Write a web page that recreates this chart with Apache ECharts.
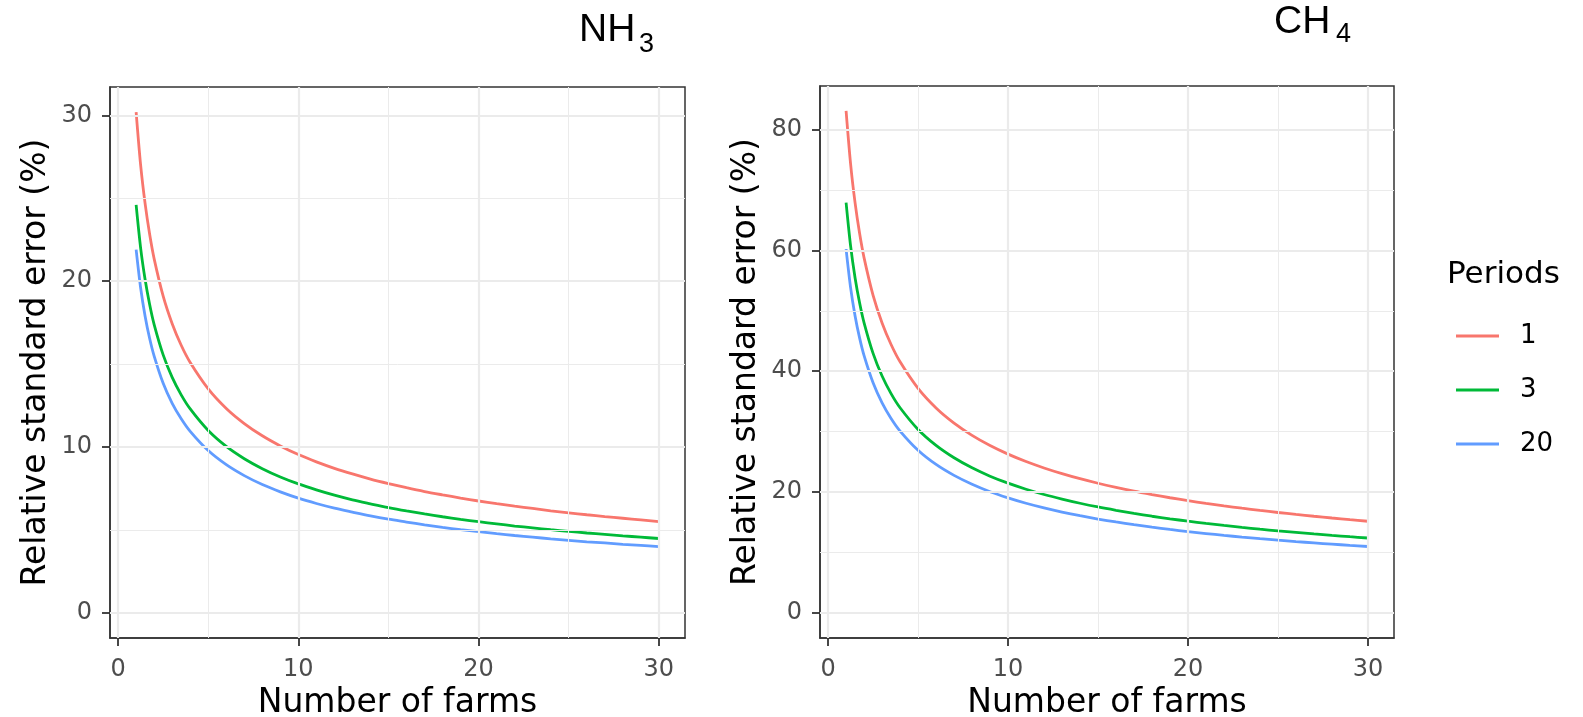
<!DOCTYPE html>
<html>
<head>
<meta charset="utf-8">
<script src="https://cdn.jsdelivr.net/npm/echarts@6/dist/echarts.min.js"></script>
<style>
html, body { margin: 0; padding: 0; background: #fff; }
#main { width: 1583px; height: 717px; }
</style>
</head>
<body>
<div id="main"></div>
<script>
// number of farms (x)
var farms = [1, 1.25, 1.5, 1.75, 2, 2.5, 3, 3.5, 4, 5, 6, 7, 8, 9, 10, 11, 12, 13, 14, 15,
  16, 17, 18, 19, 20, 21, 22, 23, 24, 25, 26, 27, 28, 29, 30];

// NH3, relative standard error (%) per number of periods
var nh3P1 = [30.2, 27.0, 24.66, 22.83, 21.35, 19.1, 17.44, 16.14, 15.1, 13.51, 12.33, 11.42, 10.68, 10.07, 9.55,
  9.11, 8.72, 8.38, 8.07, 7.8, 7.55, 7.32, 7.12, 6.93, 6.75, 6.59, 6.44, 6.3, 6.16, 6.04, 5.92, 5.81, 5.71, 5.61, 5.51];
var nh3P3 = [24.6, 22.0, 20.09, 18.6, 17.39, 15.56, 14.2, 13.15, 12.3, 11.0, 10.04, 9.3, 8.7, 8.2, 7.78,
  7.42, 7.1, 6.82, 6.58, 6.35, 6.15, 5.97, 5.8, 5.64, 5.5, 5.37, 5.24, 5.13, 5.02, 4.92, 4.82, 4.74, 4.65, 4.57, 4.49];
var nh3P20 = [21.9, 19.59, 17.88, 16.55, 15.49, 13.85, 12.64, 11.71, 10.95, 9.79, 8.94, 8.28, 7.74, 7.3, 6.92,
  6.6, 6.32, 6.08, 5.85, 5.65, 5.48, 5.31, 5.16, 5.02, 4.9, 4.78, 4.67, 4.57, 4.47, 4.38, 4.29, 4.22, 4.14, 4.07, 4.0];

// CH4
var ch4P1 = [83.1, 74.33, 67.85, 62.82, 58.76, 52.56, 47.98, 44.42, 41.55, 37.16, 33.92, 31.41, 29.38, 27.7, 26.28,
  25.05, 23.99, 23.05, 22.21, 21.46, 20.78, 20.15, 19.59, 19.06, 18.58, 18.13, 17.72, 17.33, 16.96, 16.62, 16.3, 16.0, 15.71, 15.43, 15.17];
var ch4P3 = [67.9, 60.73, 55.44, 51.33, 48.01, 42.95, 39.2, 36.29, 33.95, 30.36, 27.72, 25.67, 24.01, 22.63, 21.47,
  20.47, 19.6, 18.84, 18.15, 17.53, 16.98, 16.47, 16.0, 15.58, 15.18, 14.82, 14.48, 14.16, 13.86, 13.58, 13.32, 13.07, 12.83, 12.61, 12.4];
var ch4P20 = [60.2, 53.84, 49.15, 45.51, 42.57, 38.08, 34.76, 32.18, 30.1, 26.92, 24.57, 22.76, 21.29, 20.06, 19.04,
  18.15, 17.38, 16.7, 16.09, 15.54, 15.05, 14.6, 14.19, 13.81, 13.46, 13.14, 12.83, 12.55, 12.29, 12.04, 11.81, 11.59, 11.38, 11.18, 10.99];

var periods = ['1', '3', '20'];
var farmTicks = [0, 10, 20, 30];
var farmMinor = [5, 15, 25];
var nh3Ticks = [0, 10, 20, 30];
var nh3Minor = [5, 15, 25];
var ch4Ticks = [0, 20, 40, 60, 80];
var ch4Minor = [10, 30, 50, 70];

var colors = ['#F8766D', '#00BA38', '#619CFF'];
var FONT = 'DejaVu Sans';

function pairs(ys) {
  return farms.map(function (x, i) { return [x, ys[i]]; });
}

// background grid lines (ggplot theme_bw style) drawn as markLines
function gridSeries(idx, yMajor, yMinor) {
  var d = [];
  farmMinor.forEach(function (v) { d.push({ xAxis: v, lineStyle: { width: 1 } }); });
  yMinor.forEach(function (v) { d.push({ yAxis: v, lineStyle: { width: 1 } }); });
  farmTicks.forEach(function (v) { d.push({ xAxis: v, lineStyle: { width: 2.2 } }); });
  yMajor.forEach(function (v) { d.push({ yAxis: v, lineStyle: { width: 2.2 } }); });
  return {
    type: 'line', name: 'grid' + idx, xAxisIndex: idx, yAxisIndex: idx,
    data: [], silent: true, z: 1,
    markLine: {
      silent: true, symbol: ['none', 'none'], animation: false,
      label: { show: false },
      lineStyle: { color: '#ebebeb', type: 'solid' },
      emphasis: { disabled: true },
      data: d
    }
  };
}

function curve(idx, name, ys, c) {
  return {
    type: 'line', name: name, xAxisIndex: idx, yAxisIndex: idx,
    data: pairs(ys), smooth: 0.3, showSymbol: false, symbol: 'none',
    lineStyle: { color: c, width: 2.8 }, itemStyle: { color: c },
    z: 3, animation: false
  };
}

function xAxis(idx) {
  return {
    type: 'value', gridIndex: idx, min: -0.45, max: 31.45,
    name: 'Number of farms', nameLocation: 'middle', nameGap: 49,
    nameTextStyle: { fontFamily: FONT, fontSize: 33, color: '#000' },
    axisLine: { show: true, onZero: false, lineStyle: { color: '#333', width: 1.5 } },
    axisTick: { show: true, customValues: farmTicks, length: 8, lineStyle: { color: '#333', width: 1.8 } },
    axisLabel: { customValues: farmTicks, margin: 20, fontFamily: FONT, fontSize: 24, color: '#4d4d4d' },
    splitLine: { show: false }
  };
}

function yAxis(idx, min, max, ticks) {
  return {
    type: 'value', gridIndex: idx, min: min, max: max,
    name: 'Relative standard error (%)', nameLocation: 'middle', nameGap: 57, nameRotate: 90,
    nameTextStyle: { fontFamily: FONT, fontSize: 33, color: '#000' },
    axisLine: { show: true, onZero: false, lineStyle: { color: '#333', width: 1.5 } },
    axisTick: { show: true, customValues: ticks, length: 8, lineStyle: { color: '#333', width: 1.8 } },
    axisLabel: { customValues: ticks, margin: 18, fontFamily: FONT, fontSize: 24, color: '#4d4d4d' },
    splitLine: { show: false }
  };
}

var myChart = echarts.init(document.getElementById('main'), null, { renderer: 'canvas' });

var option = {
  backgroundColor: '#fff',
  animation: false,
  grid: [
    { left: 110, top: 87, width: 575, height: 551, outerBoundsMode: 'none', containLabel: false,
      show: true, borderColor: '#333', borderWidth: 1.5, backgroundColor: 'transparent', z: 4 },
    { left: 820, top: 86, width: 574, height: 552, outerBoundsMode: 'none', containLabel: false,
      show: true, borderColor: '#333', borderWidth: 1.5, backgroundColor: 'transparent', z: 4 }
  ],
  xAxis: [xAxis(0), xAxis(1)],
  yAxis: [yAxis(0, -1.51, 31.71, nh3Ticks), yAxis(1, -4.15, 87.2, ch4Ticks)],
  legend: {
    data: periods, orient: 'vertical', left: 1451, top: 318,
    icon: 'rect', itemWidth: 43, itemHeight: 3, itemGap: 28,
    textStyle: { fontFamily: FONT, fontSize: 26, color: '#000', padding: [0, 0, 0, 16] },
    selectedMode: false
  },
  graphic: [
    { type: 'text', left: 1447, top: 259, style: { text: 'Periods', font: '31px "DejaVu Sans"', fill: '#000' } },
    { type: 'text', left: 579, top: 11, style: { text: 'NH', font: '39px "Liberation Sans"', fill: '#000' } },
    { type: 'text', left: 639, top: 31, style: { text: '3', font: '27px "Liberation Sans"', fill: '#000' } },
    { type: 'text', left: 1274, top: 3, style: { text: 'CH', font: '39px "Liberation Sans"', fill: '#000' } },
    { type: 'text', left: 1336, top: 21, style: { text: '4', font: '27px "Liberation Sans"', fill: '#000' } }
  ],
  series: [
    gridSeries(0, nh3Ticks, nh3Minor),
    gridSeries(1, ch4Ticks, ch4Minor),
    curve(0, periods[0], nh3P1, colors[0]),
    curve(0, periods[1], nh3P3, colors[1]),
    curve(0, periods[2], nh3P20, colors[2]),
    curve(1, periods[0], ch4P1, colors[0]),
    curve(1, periods[1], ch4P3, colors[1]),
    curve(1, periods[2], ch4P20, colors[2])
  ]
};

myChart.setOption(option);
</script>
</body>
</html>
